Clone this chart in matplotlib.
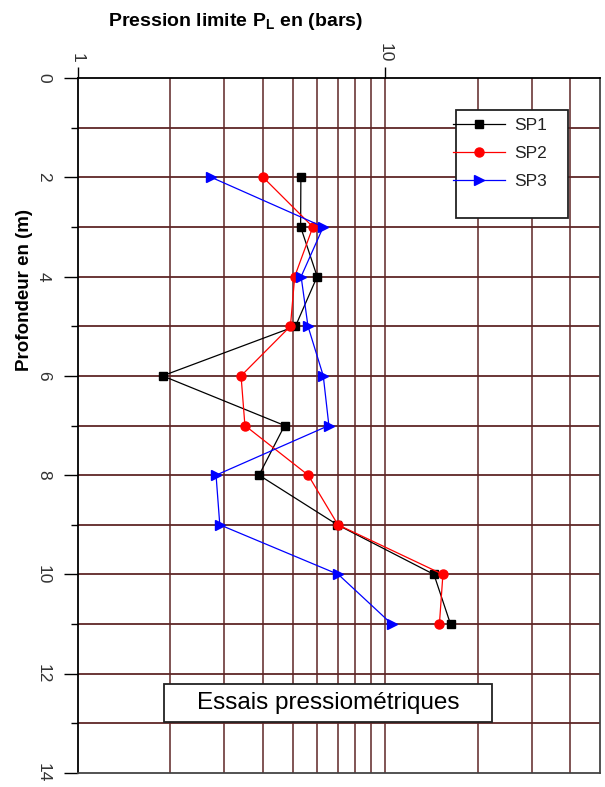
import matplotlib
matplotlib.use("Agg")
import matplotlib.pyplot as plt
from matplotlib.patches import Rectangle
from matplotlib.ticker import FixedLocator, NullFormatter

plt.rcParams['font.family'] = ['Liberation Sans', 'DejaVu Sans']
plt.rcParams['mathtext.fontset'] = 'custom'
plt.rcParams['mathtext.rm'] = 'Liberation Sans'
plt.rcParams['mathtext.bf'] = 'Liberation Sans:bold'

# ---- data ----
depth = [2, 3, 4, 5, 6, 7, 8, 9, 10, 11]
sp1 = [5.32, 5.31, 6.01, 5.11, 1.89, 4.71, 3.89, 6.99, 14.4, 16.3]
sp2 = [4.01, 5.82, 5.08, 4.92, 3.40, 3.50, 5.62, 7.02, 15.4, 15.0]
sp3 = [2.72, 6.29, 5.33, 5.61, 6.29, 6.56, 2.82, 2.90, 7.04, 10.5]
series_names = ['SP1', 'SP2', 'SP3']
x_major = [1, 10]
x_minor = [2, 3, 4, 5, 6, 7, 8, 9, 20, 30, 40]
y_major = [0, 2, 4, 6, 8, 10, 12, 14]
y_minor = [1, 3, 5, 7, 9, 11, 13]

fig = plt.figure(figsize=(6.05, 7.87), dpi=100)
ax = fig.add_axes([77.5 / 605, 1 - 773 / 787, (600.3 - 77.5) / 605, (773 - 78) / 787])

grid_c = '#5e2626'
ax.set_xscale('log')
ax.set_xlim(1, 50)
ax.set_ylim(14, 0)

for xv in x_minor + [10]:
    ax.axvline(xv, color=grid_c, lw=1.1, zorder=1)
for yv in y_minor + [2, 4, 6, 8, 10, 12]:
    ax.axhline(yv, color=grid_c, lw=1.3, zorder=1)

ax.plot(sp1, depth, color='black', lw=0.9, marker='s', ms=6, label=series_names[0], zorder=3)
ax.plot(sp2, depth, color='#ff0000', lw=0.9, marker='o', ms=6.5, label=series_names[1], zorder=3)
ax.plot(sp3, depth, color='#0000ff', lw=0.9, marker='>', ms=7, label=series_names[2], zorder=3)

# axes / ticks
ax.xaxis.tick_top()
ax.xaxis.set_major_locator(FixedLocator(x_major))
ax.xaxis.set_minor_locator(FixedLocator(x_minor))
ax.xaxis.set_minor_formatter(NullFormatter())
ax.set_xticklabels([str(v) for v in x_major], rotation=-90, color='#333333', fontsize=12.5, va='bottom')
ax.tick_params(axis='x', which='major', direction='out', length=8, width=1, pad=3, top=True, bottom=False)
ax.tick_params(axis='x', which='minor', length=0, top=False, bottom=False)

ax.yaxis.set_major_locator(FixedLocator(y_major))
ax.yaxis.set_minor_locator(FixedLocator(y_minor))
ax.set_yticklabels([str(v) for v in y_major], rotation=-90, color='#333333', fontsize=12.5, va='center', ha='right')
ax.tick_params(axis='y', which='major', direction='out', length=10, width=1, pad=9)
ax.tick_params(axis='y', which='minor', direction='out', length=5, width=1)

for s in ['left', 'top']:
    ax.spines[s].set_color('black')
    ax.spines[s].set_linewidth(1.3)
for s in ['bottom', 'right']:
    ax.spines[s].set_color('#444444')
    ax.spines[s].set_linewidth(1.3)

# legend box
ax.add_patch(Rectangle((0.724, 0.799), 0.214, 0.155, transform=ax.transAxes,
                       facecolor='white', edgecolor='#222222', lw=1.3, zorder=4, clip_on=False))
leg = ax.legend(loc='upper left', bbox_to_anchor=(0.718, 0.942), frameon=False,
                fontsize=12.5, handlelength=3.0, handletextpad=0.55, labelspacing=0.72,
                borderpad=0, borderaxespad=0)
leg.set_zorder(5)
for t in leg.get_texts():
    t.set_color('#222222')

# title box inside plot
ax.add_patch(Rectangle(((164 - 77.5) / 522.8, 1 - (722 - 78) / 695), (492 - 164) / 522.8, 38 / 695,
                       transform=ax.transAxes, facecolor='white', edgecolor='#222222', lw=1.3,
                       zorder=4, clip_on=False))
ax.text((328 - 77.5) / 522.8, 1 - (703 - 78) / 695, 'Essais pressiométriques', transform=ax.transAxes,
        ha='center', va='center', fontsize=17.5, zorder=5, color='black')

fig.text(235 / 605, 1 - 21 / 787, r'Pression limite P$_{\mathbf{L}}$ en (bars)', ha='center', va='center',
         fontsize=14, fontweight='bold')
fig.text(25 / 605, 1 - 290 / 787, 'Profondeur en (m)', ha='center', va='center', rotation=90,
         fontsize=13.5, fontweight='bold')

fig.savefig('out.png', dpi=100)
